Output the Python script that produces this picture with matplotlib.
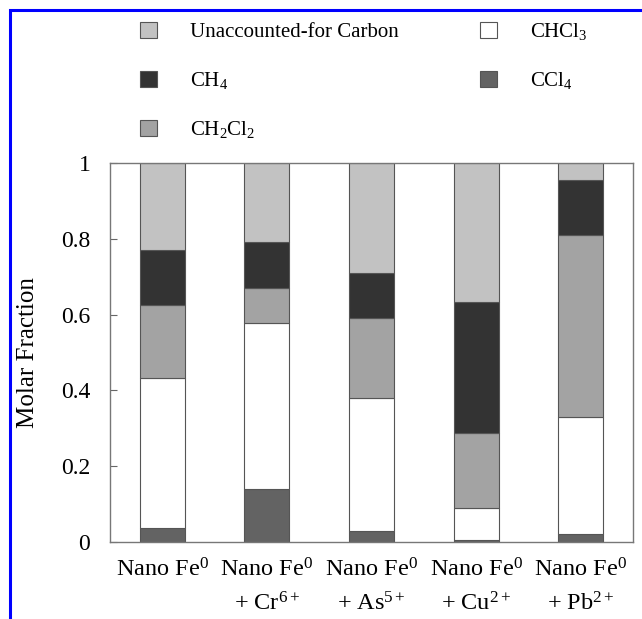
import matplotlib
matplotlib.use('Agg')
import matplotlib.pyplot as plt
from matplotlib.patches import Rectangle
import numpy as np

plt.rcParams['font.family'] = ['Liberation Serif', 'DejaVu Serif']
plt.rcParams['mathtext.fontset'] = 'custom'
plt.rcParams['mathtext.rm'] = 'Liberation Serif'
plt.rcParams['mathtext.it'] = 'Liberation Serif:italic'

# samples along the x axis
samples = ['Nano Fe$^0$',
           'Nano Fe$^0$\n+ Cr$^{6+}$',
           'Nano Fe$^0$\n+ As$^{5+}$',
           'Nano Fe$^0$\n+ Cu$^{2+}$',
           'Nano Fe$^0$\n+ Pb$^{2+}$']

# molar fractions, stacked from bottom to top
ccl4 = [0.036, 0.139, 0.029, 0.005, 0.021]
chcl3 = [0.396, 0.438, 0.352, 0.086, 0.310]
ch2cl2 = [0.193, 0.094, 0.209, 0.196, 0.479]
ch4 = [0.145, 0.121, 0.121, 0.345, 0.145]
unaccounted = [1 - a - b - c - d for a, b, c, d in zip(ccl4, chcl3, ch2cl2, ch4)]

fig = plt.figure(figsize=(6.42, 6.19), dpi=100)
ax = fig.add_axes([0.171, 0.1244, 0.815, 0.6123])

x = np.arange(len(samples))
w = 0.43
edge = dict(edgecolor='#555555', linewidth=0.8)

bottom = np.zeros(len(samples))
layers = [(ccl4, '#636363', 'CCl$_4$'),
          (chcl3, 'white', 'CHCl$_3$'),
          (ch2cl2, '#a3a3a3', 'CH$_2$Cl$_2$'),
          (ch4, '#333333', 'CH$_4$'),
          (unaccounted, '#c2c2c2', 'Unaccounted-for Carbon')]
bars = {}
for vals, col, lab in layers:
    bars[lab] = ax.bar(x, vals, w, bottom=bottom, color=col, label=lab, **edge)
    bottom += np.array(vals)

ax.set_xlim(-0.5, 4.5)
ax.set_ylim(0, 1)
ax.set_xticks(x)
ax.set_xticklabels(samples, fontsize=17.5, linespacing=1.55)
ax.tick_params(axis='x', length=0, pad=12)
ax.set_yticks([0, 0.2, 0.4, 0.6, 0.8, 1])
ax.set_yticklabels(['0', '0.2', '0.4', '0.6', '0.8', '1'])
ax.tick_params(axis='y', direction='in', length=5, labelsize=17, pad=14, color='#666666')
ax.set_ylabel('Molar Fraction', fontsize=18, labelpad=16)
for s in ax.spines.values():
    s.set_color('#777777')
    s.set_linewidth(1)

order = ['Unaccounted-for Carbon', 'CH$_4$', 'CH$_2$Cl$_2$', 'CHCl$_3$', 'CCl$_4$']
fig.legend([bars[k] for k in order], order, ncol=2, loc='upper left',
           bbox_to_anchor=(0.218, 0.966), frameon=False, fontsize=15,
           handlelength=0.82, handleheight=0.82, handletextpad=1.58,
           labelspacing=1.35, columnspacing=3.9, borderpad=0, borderaxespad=0)

# blue frame around the figure
fig.add_artist(Rectangle((9.5 / 642, -0.1), 1.2, 1.1 - 10.5 / 619,
                         transform=fig.transFigure, fill=False,
                         edgecolor='#0000ff', linewidth=2.2))

fig.savefig('out.png', dpi=100)
